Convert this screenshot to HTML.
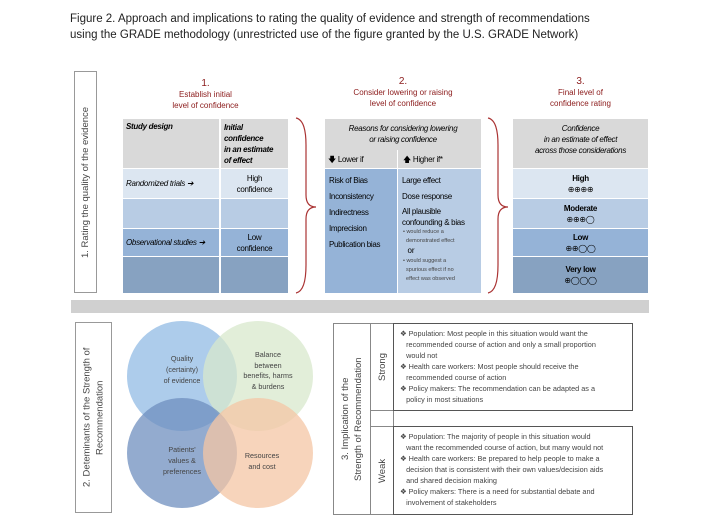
<!DOCTYPE html>
<html><head><meta charset="utf-8"><style>
*{margin:0;padding:0;box-sizing:border-box}
body{width:702px;height:532px;background:#fff;font-family:"Liberation Sans",sans-serif;position:relative;overflow:hidden}
.a{position:absolute}
.t{font-size:8px;color:#000;letter-spacing:-0.3px}
.hd{color:#8b1a1a;font-size:8px;text-align:center;line-height:11px}
.c{display:flex;align-items:center;justify-content:center;text-align:center}
.vt{writing-mode:vertical-rl;transform:rotate(180deg);text-align:center;font-size:9.5px;color:#444;display:flex;align-items:center;justify-content:center}
.g{font-size:7.2px;color:#444;line-height:11px}
</style></head><body>
<div class="a" style="left:70px;top:11px;font-size:11.5px;line-height:16px;color:#222">Figure 2. Approach and implications to rating the quality of evidence and strength of recommendations<br>using the GRADE methodology (unrestricted use of the figure granted by the U.S. GRADE Network)</div>

<div class="a vt" style="left:74px;top:71px;width:23px;height:222px;border:1px solid #999">1. Rating the quality of the evidence</div>

<div class="a hd" style="left:123px;top:78px;width:165px"><span style="font-size:10px">1.</span><br>Establish initial<br>level of confidence</div>
<div class="a hd" style="left:325px;top:76px;width:156px"><span style="font-size:10px">2.</span><br>Consider lowering or raising<br>level of confidence</div>
<div class="a hd" style="left:513px;top:76px;width:135px"><span style="font-size:10px">3.</span><br>Final level of<br>confidence rating</div>

<!-- table1 -->
<div class="a t" style="left:123px;top:119px;width:96px;height:49px;background:#d9d9d9;padding:3px;font-style:italic;font-weight:bold">Study design</div>
<div class="a t" style="left:221px;top:119px;width:67px;height:49px;background:#d9d9d9;padding:3px;font-style:italic;font-weight:bold;line-height:11px">Initial<br>confidence<br>in an estimate<br>of effect</div>
<div class="a t" style="left:123px;top:169px;width:96px;height:29px;background:#dce6f1;padding:10px 3px;font-style:italic">Randomized trials ➔</div>
<div class="a t c" style="left:221px;top:169px;width:67px;height:29px;background:#dce6f1;line-height:11px"><div>High<br>confidence</div></div>
<div class="a" style="left:123px;top:199px;width:96px;height:29px;background:#b8cce4"></div>
<div class="a" style="left:221px;top:199px;width:67px;height:29px;background:#b8cce4"></div>
<div class="a t" style="left:123px;top:229px;width:96px;height:27px;background:#95b3d7;padding:9px 3px;font-style:italic">Observational studies ➔</div>
<div class="a t c" style="left:221px;top:229px;width:67px;height:27px;background:#95b3d7;line-height:11px"><div>Low<br>confidence</div></div>
<div class="a" style="left:123px;top:257px;width:96px;height:36px;background:#87a2c1"></div>
<div class="a" style="left:221px;top:257px;width:67px;height:36px;background:#87a2c1"></div>

<svg class="a" style="left:290px;top:115px" width="30" height="182"><path d="M6 3 Q16 5 16 30 L16 80 Q16 92 26 92 Q16 92 16 104 L16 150 Q16 176 6 178" fill="none" stroke="#a33" stroke-width="1.2"/></svg>

<!-- table2 -->
<div class="a t" style="left:325px;top:119px;width:156px;height:49px;background:#d9d9d9"></div>
<div class="a t" style="left:325px;top:123px;width:156px;text-align:center;font-style:italic;line-height:11px">Reasons for considering lowering<br>or raising confidence</div>
<div class="a" style="left:397px;top:150px;width:1px;height:18px;background:#fff"></div>
<div class="a t" style="left:328px;top:154px">🡇 Lower if</div>
<div class="a t" style="left:403px;top:154px">🡅 Higher if*</div>
<div class="a" style="left:325px;top:169px;width:72px;height:124px;background:#95b3d7"></div>
<div class="a" style="left:398px;top:169px;width:83px;height:124px;background:#b8cce4"></div>
<div class="a t" style="left:329px;top:173px;line-height:16px">Risk of Bias<br>Inconsistency<br>Indirectness<br>Imprecision<br>Publication bias</div>
<div class="a t" style="left:402px;top:173px;line-height:16px">Large effect<br>Dose response</div>
<div class="a t" style="left:402px;top:206px;line-height:11px">All plausible<br>confounding &amp; bias</div>
<div class="a" style="left:403px;top:228px;font-size:5.5px;color:#444;line-height:9px">• would reduce a<br>&nbsp;&nbsp;demonstrated effect<br><span style="font-size:8px;color:#000">&nbsp;&nbsp;or</span><br>• would suggest a<br>&nbsp;&nbsp;spurious effect if no<br>&nbsp;&nbsp;effect was observed</div>

<svg class="a" style="left:482px;top:115px" width="32" height="182"><path d="M6 3 Q16 5 16 30 L16 80 Q16 92 26 92 Q16 92 16 104 L16 150 Q16 176 6 178" fill="none" stroke="#a33" stroke-width="1.2"/></svg>

<!-- table3 -->
<div class="a t" style="left:513px;top:119px;width:135px;height:49px;background:#d9d9d9;font-style:italic;line-height:11px;text-align:center;padding-top:4px">Confidence<br>in an estimate of effect<br>across those considerations</div>
<div class="a t c" style="left:513px;top:169px;width:135px;height:29px;background:#dce6f1;line-height:11px"><div><b>High</b><br>⊕⊕⊕⊕</div></div>
<div class="a t c" style="left:513px;top:199px;width:135px;height:29px;background:#b8cce4;line-height:11px"><div><b>Moderate</b><br>⊕⊕⊕◯</div></div>
<div class="a t c" style="left:513px;top:229px;width:135px;height:27px;background:#95b3d7;line-height:11px"><div><b>Low</b><br>⊕⊕◯◯</div></div>
<div class="a t c" style="left:513px;top:257px;width:135px;height:36px;background:#87a2c1;line-height:11px"><div><b>Very low</b><br>⊕◯◯◯</div></div>

<div class="a" style="left:71px;top:300px;width:578px;height:13px;background:#d0d0d0"></div>

<div class="a vt" style="left:75px;top:322px;width:37px;height:191px;border:1px solid #999;line-height:13px">2. Deteminants of the Strength of<br>Recommendation</div>

<svg class="a" style="left:120px;top:315px" width="200" height="210">
<circle cx="62" cy="61" r="55" fill="#9fc3e7" fill-opacity="0.85"/>
<circle cx="138" cy="61" r="55" fill="#d8e8cc" fill-opacity="0.75"/>
<circle cx="62" cy="138" r="55" fill="#6f8fbf" fill-opacity="0.75"/>
<circle cx="138" cy="138" r="55" fill="#f4c6a4" fill-opacity="0.75"/>
</svg>
<div class="a g" style="left:150px;top:353px;width:64px;text-align:center">Quality<br>(certainty)<br>of evidence</div>
<div class="a g" style="left:230px;top:350px;width:76px;text-align:center;line-height:10.5px">Balance<br>between<br>benefits, harms<br>&amp; burdens</div>
<div class="a g" style="left:150px;top:444px;width:64px;text-align:center">Patients'<br>values &amp;<br>preferences</div>
<div class="a g" style="left:230px;top:450px;width:64px;text-align:center">Resources<br>and cost</div>

<div class="a vt" style="left:333px;top:323px;width:38px;height:192px;border:1px solid #888;line-height:13px">3. Implication of the<br>Strength of Recommendation</div>
<div class="a vt" style="left:370px;top:323px;width:24px;height:88px;border:1px solid #888;border-left:none">Strong</div>
<div class="a" style="left:370px;top:410px;width:24px;height:17px;border-right:1px solid #888"></div>
<div class="a vt" style="left:370px;top:426px;width:24px;height:89px;border:1px solid #888;border-left:none">Weak</div>
<div class="a g" style="left:393px;top:323px;width:240px;height:88px;border:1.5px solid #555;padding:4px 6px;font-size:7.3px">❖ Population: Most people in this situation would want the<br>&nbsp;&nbsp;&nbsp;recommended course of action and only a small proportion<br>&nbsp;&nbsp;&nbsp;would not<br>❖ Health care workers: Most people should receive the<br>&nbsp;&nbsp;&nbsp;recommended course of action<br>❖ Policy makers: The recommendation can be adapted as a<br>&nbsp;&nbsp;&nbsp;policy in most situations</div>
<div class="a g" style="left:393px;top:426px;width:240px;height:89px;border:1.5px solid #555;padding:4px 6px;font-size:7.3px">❖ Population: The majority of people in this situation would<br>&nbsp;&nbsp;&nbsp;want the recommended course of action, but many would not<br>❖ Health care workers: Be prepared to help people to make a<br>&nbsp;&nbsp;&nbsp;decision that is consistent with their own values/decision aids<br>&nbsp;&nbsp;&nbsp;and shared decision making<br>❖ Policy makers: There is a need for substantial debate and<br>&nbsp;&nbsp;&nbsp;involvement of stakeholders</div>
</body></html>
